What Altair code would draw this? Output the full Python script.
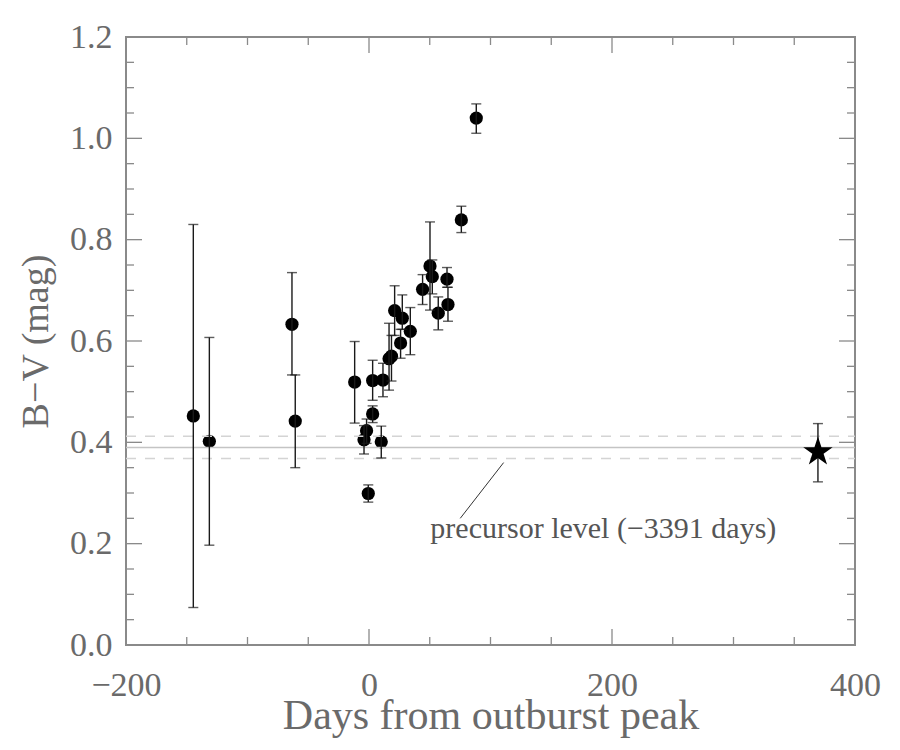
import altair as alt
import pandas as pd

# ---- data ----
days = [-144.6, -131.4, -63.4, -60.7, -11.8, -4.1, -2.0, -0.6, 3.0, 3.0, 10.1, 11.5,
        16.5, 18.5, 21.1, 26.0, 27.4, 34.0, 44.1, 50.2, 52.1, 57.0, 64.2, 65.0, 76.0, 88.3]
bv = [0.452, 0.402, 0.633, 0.442, 0.519, 0.405, 0.423, 0.299, 0.522, 0.456, 0.401, 0.523,
      0.565, 0.570, 0.660, 0.596, 0.645, 0.619, 0.702, 0.748, 0.727, 0.655, 0.722, 0.672, 0.839, 1.040]
bv_lo = [0.074, 0.197, 0.533, 0.350, 0.438, 0.377, 0.398, 0.282, 0.483, 0.439, 0.369, 0.490,
         0.503, 0.521, 0.611, 0.566, 0.623, 0.573, 0.672, 0.661, 0.693, 0.622, 0.706, 0.639, 0.814, 1.010]
bv_hi = [0.830, 0.607, 0.735, 0.533, 0.599, 0.433, 0.446, 0.316, 0.562, 0.472, 0.432, 0.556,
         0.635, 0.611, 0.709, 0.623, 0.691, 0.666, 0.731, 0.835, 0.760, 0.687, 0.745, 0.706, 0.866, 1.068]

star_day = [369.5]
star_bv = [0.381]
star_lo = [0.322]
star_hi = [0.437]

precursor_level = [0.390]
precursor_band = [0.368, 0.412]

annot_line = {"x": [110.8], "x2": [75.1], "y": [0.360], "y2": [0.250]}
annot_text = {"x": [50.5], "y": [0.228], "label": ["precursor level (\u22123391 days)"]}

x_major = [-200, 0, 200, 400]
x_minor = [-150, -100, -50, 50, 100, 150, 250, 300, 350]
y_major = [0.0, 0.2, 0.4, 0.6, 0.8, 1.0, 1.2]
y_minor = [0.05, 0.1, 0.15, 0.25, 0.3, 0.35, 0.45, 0.5, 0.55, 0.65, 0.7, 0.75,
           0.85, 0.9, 0.95, 1.05, 1.1, 1.15]

# ---- layout ----
W, H = 729, 608
FONT = "Liberation Serif"
GREY = "#6a6a6a"
FRAME = "#8a8a8a"
STAR = ("M0,-1 L0.225,-0.309 L0.951,-0.309 L0.363,0.118 L0.588,0.809 L0,0.382 "
        "L-0.588,0.809 L-0.363,0.118 L-0.951,-0.309 L-0.225,-0.309 Z")

xs = alt.Scale(domain=[-200, 400], nice=False, zero=False)
ys = alt.Scale(domain=[0, 1.2], nice=False, zero=False)

X_AXIS = alt.Axis(
    orient="bottom", values=x_major, format="d", ticks=False, domain=False, grid=False,
    labelFlush=False, labelOverlap=False,
    labelFont=FONT, labelFontSize=34, labelColor=GREY, labelPadding=23,
    title="Days from outburst peak", titleFont=FONT, titleFontSize=42,
    titleFontWeight="normal", titleColor=GREY, titlePadding=-7)
Y_AXIS = alt.Axis(
    orient="left", values=y_major, format=".1f", ticks=False, domain=False, grid=False,
    labelFlush=False, labelOverlap=False,
    labelFont=FONT, labelFontSize=34, labelColor=GREY, labelPadding=14,
    title="B\u2212V (mag)", titleFont=FONT, titleFontSize=38,
    titleFontWeight="normal", titleColor=GREY, titlePadding=14)


def qx(field):
    return alt.X(field, scale=xs, axis=X_AXIS)


def qy(field):
    return alt.Y(field, scale=ys, axis=Y_AXIS)


pts = pd.DataFrame({"d": days, "bv": bv, "lo": bv_lo, "hi": bv_hi})
star = pd.DataFrame({"d": star_day, "bv": star_bv, "lo": star_lo, "hi": star_hi})

# precursor lines
prec = pd.DataFrame({"v": precursor_level})
band = pd.DataFrame({"v": precursor_band})
prec_line = alt.Chart(prec).mark_rule(color="#c4c4c4", strokeWidth=1.5).encode(
    y=qy("v:Q"), x=alt.value(0), x2=alt.value(W))
band_lines = alt.Chart(band).mark_rule(color="#d4d4d4", strokeWidth=1.5, strokeDash=[10, 9]).encode(
    y=qy("v:Q"), x=alt.value(0), x2=alt.value(W))

# error bars
ERRC = "#1a1a1a"
err = alt.Chart(pts).mark_rule(color=ERRC, strokeWidth=1.4).encode(
    x=qx("d:Q"), y=qy("lo:Q"), y2="hi:Q")
cap_lo = alt.Chart(pts).mark_tick(color=ERRC, thickness=1.4, size=10, orient="horizontal").encode(
    x=qx("d:Q"), y=qy("lo:Q"))
cap_hi = alt.Chart(pts).mark_tick(color=ERRC, thickness=1.4, size=10, orient="horizontal").encode(
    x=qx("d:Q"), y=qy("hi:Q"))
dots = alt.Chart(pts).mark_point(shape="circle", filled=True, color="black", opacity=1, size=175).encode(
    x=qx("d:Q"), y=qy("bv:Q"))

# star point
s_err = alt.Chart(star).mark_rule(color=ERRC, strokeWidth=1.4).encode(
    x=qx("d:Q"), y=qy("lo:Q"), y2="hi:Q")
s_lo = alt.Chart(star).mark_tick(color=ERRC, thickness=1.4, size=10, orient="horizontal").encode(
    x=qx("d:Q"), y=qy("lo:Q"))
s_hi = alt.Chart(star).mark_tick(color=ERRC, thickness=1.4, size=10, orient="horizontal").encode(
    x=qx("d:Q"), y=qy("hi:Q"))
s_pt = alt.Chart(star).mark_point(shape=STAR, filled=True, color="black", opacity=1, size=960).encode(
    x=qx("d:Q"), y=qy("bv:Q"))

# annotation
ann_l = alt.Chart(pd.DataFrame(annot_line)).mark_rule(color="#333", strokeWidth=1).encode(
    x=qx("x:Q"), x2="x2:Q", y=qy("y:Q"), y2="y2:Q")
ann_t = alt.Chart(pd.DataFrame(annot_text)).mark_text(
    font=FONT, fontSize=30, color="#555", align="left", baseline="middle").encode(
    x=qx("x:Q"), y=qy("y:Q"), text="label:N")


# inward ticks (frame ticks on all four sides)
def xticks(vals, length):
    df = pd.DataFrame({"t": vals})
    bot = alt.Chart(df).mark_rule(color=FRAME, strokeWidth=1.3).encode(
        x=qx("t:Q"), y=alt.value(H), y2=alt.value(H - length))
    top = alt.Chart(df).mark_rule(color=FRAME, strokeWidth=1.3).encode(
        x=qx("t:Q"), y=alt.value(0), y2=alt.value(length))
    return [bot, top]


def yticks(vals, length):
    df = pd.DataFrame({"t": vals})
    left = alt.Chart(df).mark_rule(color=FRAME, strokeWidth=1.3).encode(
        y=qy("t:Q"), x=alt.value(0), x2=alt.value(length))
    right = alt.Chart(df).mark_rule(color=FRAME, strokeWidth=1.3).encode(
        y=qy("t:Q"), x=alt.value(W), x2=alt.value(W - length))
    return [left, right]


tick_layers = xticks(x_major, 16) + xticks(x_minor, 8) + yticks(y_major, 16) + yticks(y_minor, 8)

chart = alt.layer(
    dots, prec_line, band_lines, *tick_layers,
    err, cap_lo, cap_hi, s_err, s_lo, s_hi,
    ann_l, ann_t, s_pt
).properties(
    width=W, height=H,
    autosize=alt.AutoSizeParams(type="none"),
    padding={"left": 126, "top": 37, "right": 45, "bottom": 105},
    background="white"
).configure_view(
    stroke=FRAME, strokeWidth=2
)

chart.save("out.html", embed_options={"renderer": "svg", "actions": False})
